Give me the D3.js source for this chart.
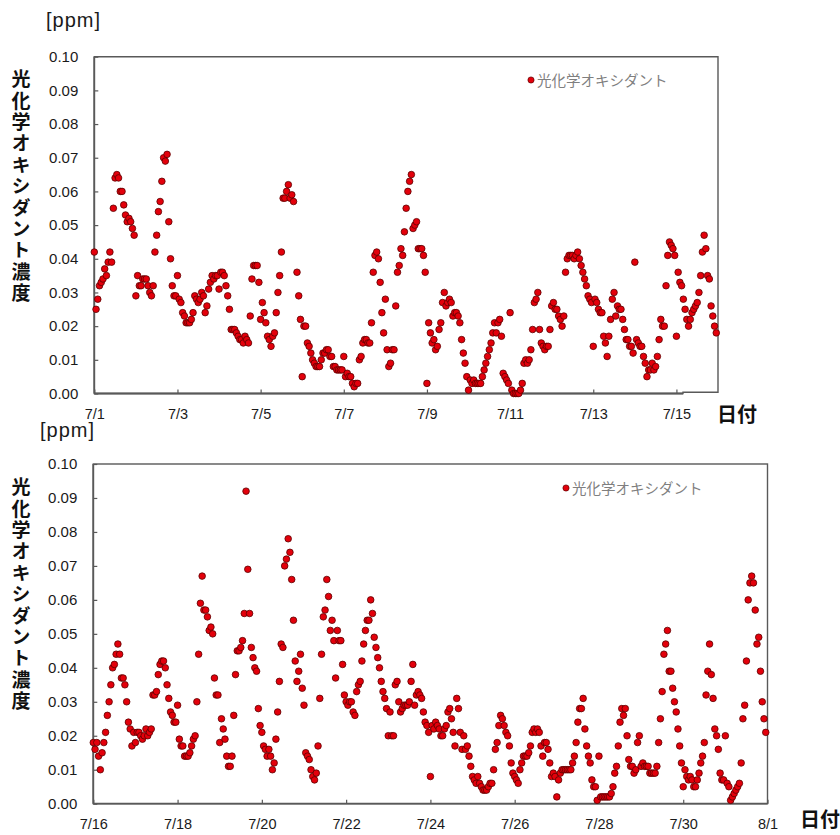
<!DOCTYPE html>
<html>
<head>
<meta charset="utf-8">
<script src="https://cdn.jsdelivr.net/npm/d3@7"></script>
<style>
  body { margin: 0; background: #fff; }
  svg text { font-family: "Liberation Sans", Arial, sans-serif; }
  svg text.jp { font-family: "Noto Sans CJK JP", "Noto Sans", sans-serif; }
</style>
</head>
<body>
<svg id="chart" width="840" height="835"></svg>
<script>
// Hourly photochemical oxidant concentration [ppm], 24 values per day.
const oxJuly1to15 = [
  0.042,0.025,0.028,0.032,0.033,0.034,0.037,0.035,0.039,0.042,0.039,0.055,0.064,0.065,0.064,0.060,0.060,0.056,0.053,0.051,0.052,0.051,0.049,0.047, // 7/1
  0.029,0.035,0.032,0.032,0.034,0.034,0.034,0.032,0.030,0.029,0.032,0.042,0.047,0.054,0.057,0.063,0.070,0.069,0.071,0.051,0.040,0.032,0.029,0.029, // 7/2
  0.035,0.028,0.027,0.024,0.023,0.021,0.021,0.021,0.022,0.024,0.029,0.028,0.027,0.028,0.030,0.029,0.024,0.026,0.031,0.033,0.035,0.034,0.035,0.035, // 7/3
  0.031,0.036,0.036,0.035,0.032,0.029,0.025,0.019,0.019,0.019,0.018,0.017,0.016,0.016,0.015,0.017,0.016,0.015,0.023,0.034,0.038,0.038,0.038,0.033, // 7/4
  0.022,0.027,0.024,0.021,0.017,0.016,0.014,0.017,0.018,0.024,0.030,0.035,0.042,0.058,0.058,0.060,0.062,0.058,0.059,0.057,null, 0.036,0.029,0.022, // 7/5
  0.005,0.020,0.020,0.015,0.014,0.012,0.010,0.009,0.008,0.008,0.008,0.010,0.012,0.012,0.013,0.013,0.011,0.011,0.008,0.008,0.007,0.007,0.007,0.007, // 7/6
  0.011,0.005,0.006,0.005,0.005,0.003,0.002,0.003,0.003,0.010,0.011,0.015,0.016,0.016,0.015,0.015,0.021,0.036,0.041,0.042,0.040,0.033,0.024,0.018, // 7/7
  0.028,0.013,0.008,0.009,0.013,0.013,0.026,0.036,0.038,0.043,0.041,0.048,0.055,0.060,0.063,0.065,0.049,0.050,0.051,0.043,0.043,0.043,0.041,0.036, // 7/8
  0.003,0.021,0.018,0.015,0.016,0.013,0.014,0.019,0.021,0.027,0.030,0.026,0.027,0.028,0.027,0.023,0.024,0.024,0.023,0.021,0.016,0.012,0.009,0.005, // 7/9
  0.001,0.004,0.003,0.004,0.003,0.003,0.003,0.003,0.005,0.007,0.009,0.011,0.013,0.015,0.018,0.021,0.018,0.021,0.022,0.017,0.006,0.005,0.004,0.003, // 7/10
  0.024,0.001,0.000,0.000,0.000,0.000,0.001,0.003,0.009,0.010,0.009,0.010,0.013,0.019,0.027,0.028,0.030,0.019,0.015,0.014,0.013,0.014,0.014,0.019, // 7/11
  0.026,0.027,0.025,0.025,0.023,0.022,0.020,0.023,0.036,0.040,0.041,0.041,0.041,0.040,0.041,0.042,0.040,0.038,0.036,0.034,0.032,0.029,0.028,0.027, // 7/12
  0.014,0.028,0.027,0.025,0.024,0.024,0.017,0.015,0.011,0.017,0.022,0.028,0.030,0.023,0.026,0.025,0.025,0.022,0.019,0.016,0.016,0.014,0.014,0.012, // 7/13
  0.039,0.016,0.015,0.014,0.014,0.011,0.009,0.005,0.007,0.007,0.009,0.007,0.008,0.011,0.016,0.022,0.020,0.020,0.032,0.041,0.045,0.044,0.043,0.041, // 7/14
  0.017,0.036,0.033,0.032,0.028,0.025,0.022,0.020,0.022,0.024,0.025,0.026,0.027,0.030,0.035,0.042,0.047,0.043,0.035,0.034,0.026,0.023,0.020,0.018  // 7/15
];

const oxJuly16to31 = [
  0.018,0.016,0.018,0.014,0.010,0.015,0.018,0.021,0.026,0.030,0.035,0.040,0.041,0.044,0.047,0.044,0.037,0.037,0.035,0.030,0.024,0.022,0.017,0.021, // 7/16
  0.018,0.021,0.021,0.020,0.019,0.020,0.022,0.020,0.021,0.022,0.032,0.032,0.033,0.038,0.041,0.042,0.042,0.040,0.035,0.031,0.027,0.026,0.024,0.024, // 7/17
  0.029,0.019,0.017,0.017,0.014,0.014,0.014,0.015,0.017,0.019,0.020,0.030,0.044,0.059,0.067,0.057,0.057,0.055,0.051,0.052,0.050,0.037,0.032,0.032, // 7/18
  0.018,0.025,0.022,0.019,0.014,0.011,0.011,0.014,0.026,0.038,0.045,0.045,0.046,0.048,0.056,0.092,0.069,0.056,0.046,0.043,0.040,0.039,0.028,0.023, // 7/19
  0.021,0.017,0.016,0.014,0.016,0.014,0.010,0.012,0.019,0.027,0.036,0.047,0.046,0.070,0.072,0.078,0.074,0.066,0.054,0.042,0.036,0.039,0.044,0.034, // 7/20
  0.029,0.015,0.014,0.013,0.010,0.008,0.007,0.009,0.017,0.031,0.044,0.055,0.057,0.066,0.061,0.051,0.054,0.048,0.037,0.051,0.048,0.048,0.041,0.032, // 7/21
  0.030,0.029,0.030,0.030,0.027,0.026,0.033,0.035,0.036,0.042,0.047,0.051,0.054,0.054,0.060,0.056,0.049,0.046,0.043,0.040,0.036,0.033,0.031,0.028, // 7/22
  0.020,0.027,0.020,0.020,0.035,0.036,0.030,0.027,0.028,0.029,0.029,0.029,0.030,0.036,0.041,0.029,0.032,0.033,0.032,0.031,0.027,0.024,0.023,0.021, // 7/23
  0.008,0.023,0.022,0.024,0.023,0.022,0.020,0.020,0.022,0.023,0.027,0.028,0.025,0.021,0.017,0.031,0.028,0.021,0.016,0.020,0.016,0.017,0.014,0.011, // 7/24
  0.008,0.007,0.006,0.008,0.006,0.005,0.004,0.004,0.004,0.005,0.006,0.006,0.010,0.016,0.018,0.023,0.026,0.025,0.023,0.021,0.020,0.017,0.012,0.009, // 7/25
  0.008,0.007,0.006,0.010,0.012,0.014,0.014,0.014,0.015,0.017,0.021,0.022,0.021,0.022,0.021,0.017,0.014,0.018,0.018,0.016,0.012,0.008,0.009,0.008, // 7/26
  0.002,0.007,0.009,0.010,0.010,0.010,0.010,0.010,0.010,0.012,0.014,0.018,0.024,0.028,0.028,0.031,0.022,0.017,0.014,0.012,0.007,0.005,0.005,0.001, // 7/27
  0.014,0.002,0.002,0.002,0.002,0.002,0.002,0.003,0.005,0.009,0.011,0.017,0.024,0.028,0.026,0.028,0.020,0.013,0.011,0.011,0.009,0.010,0.018,0.020, // 7/28
  0.011,0.012,0.011,0.011,0.011,0.009,0.009,0.009,0.009,0.011,0.018,0.025,0.033,0.044,0.047,0.051,0.039,0.039,0.034,0.030,0.027,0.022,0.017,0.012, // 7/29
  0.005,0.010,0.008,0.007,0.008,0.007,0.005,0.005,0.007,0.009,0.012,0.014,0.018,0.032,0.039,0.047,0.038,0.031,0.022,0.020,0.016,0.009,0.007,0.007, // 7/30
  0.020,0.006,0.005,0.001,0.002,0.003,0.004,0.005,0.006,0.012,0.025,0.029,0.042,0.060,0.065,0.067,0.065,0.057,0.047,0.049,0.039,0.030,0.025,0.021  // 7/31
];

const yTickValues = [0, 0.01, 0.02, 0.03, 0.04, 0.05, 0.06, 0.07, 0.08, 0.09, 0.10];
const dateLabelsFirst = ["7/1", "7/3", "7/5", "7/7", "7/9", "7/11", "7/13", "7/15"];
const dateLabelsSecond = ["7/16", "7/18", "7/20", "7/22", "7/24", "7/26", "7/28", "7/30", "8/1"];
const seriesName = "光化学オキシダント";
const yAxisTitle = "光化学オキシダント濃度";
const unitLabel = "[ppm]";
const xAxisTitle = "日付";

const svg = d3.select("#chart");
const axisColor = "#595959";

const panels = [
  { values: oxJuly1to15, labels: dateLabelsFirst, days: 15,
    left: 94.3, right: 718, top: 56.7, bottom: 393.5,
    unitX: 46, unitY: 27, titleX: 21, titleTop: 69.5,
    legendX: 531, legendY: 80, dateTitleX: 717, dateTitleY: 422, stepX: 683 },
  { values: oxJuly16to31, labels: dateLabelsSecond, days: 16,
    left: 93.3, right: 767.5, top: 464, bottom: 803.7,
    unitX: 40, unitY: 437, titleX: 21, titleTop: 477.5,
    legendX: 566, legendY: 488, dateTitleX: 800, dateTitleY: 827, stepX: null }
];

panels.forEach(p => {
  const hours = p.days * 24;
  const x = d3.scaleLinear().domain([0, hours]).range([p.left, p.right]);
  const y = d3.scaleLinear().domain([0, 0.1]).range([p.bottom, p.top]);
  const g = svg.append("g");

  // y axis: inward ticks, two-decimal labels
  const yAxis = g.append("g")
    .attr("transform", `translate(${p.left},0)`)
    .call(d3.axisLeft(y).tickValues(yTickValues).tickSize(-4).tickPadding(16)
      .tickFormat(d3.format(".2f")));
  yAxis.select(".domain").remove();
  yAxis.selectAll(".tick line").attr("stroke", axisColor).attr("stroke-width", 1.2);
  yAxis.selectAll(".tick text").attr("font-size", 15).attr("fill", "#1a1a1a")
    .attr("font-family", "Liberation Sans, Arial, sans-serif");

  // x axis: a tick every two days
  const xAxis = g.append("g")
    .attr("transform", `translate(0,${p.bottom})`)
    .call(d3.axisBottom(x).tickValues(d3.range(0, hours + 1, 48)).tickSize(-4).tickPadding(15)
      .tickFormat((d, i) => p.labels[i]));
  xAxis.select(".domain").remove();
  xAxis.selectAll(".tick line").attr("stroke", axisColor).attr("stroke-width", 1.2);
  xAxis.selectAll(".tick text").attr("font-size", 14.5).attr("fill", "#1a1a1a")
    .attr("font-family", "Liberation Sans, Arial, sans-serif");

  // plot frame
  if (p.stepX) {
    g.append("path")
      .attr("d", `M${p.left},${p.top}H${p.right}V${p.bottom - 1.2}H${p.stepX}V${p.bottom}H${p.left}Z`)
      .attr("fill", "none").attr("stroke", axisColor).attr("stroke-width", 1.4);
  } else {
    g.append("rect")
      .attr("x", p.left).attr("y", p.top)
      .attr("width", p.right - p.left).attr("height", p.bottom - p.top)
      .attr("fill", "none").attr("stroke", axisColor).attr("stroke-width", 1.4);
  }
  g.append("line").attr("x1", p.left).attr("x2", p.left).attr("y1", p.top).attr("y2", p.bottom)
    .attr("stroke", axisColor).attr("stroke-width", 1.8);
  g.append("line").attr("x1", p.left).attr("x2", p.stepX || p.right).attr("y1", p.bottom).attr("y2", p.bottom)
    .attr("stroke", axisColor).attr("stroke-width", 1.8);

  // hourly markers
  const pts = p.values.map((v, i) => ({ h: i, v })).filter(d => d.v !== null);
  g.append("g").selectAll("circle").data(pts).join("circle")
    .attr("cx", d => x(d.h)).attr("cy", d => y(d.v)).attr("r", 3.3)
    .attr("fill", "#e3000b").attr("stroke", "#5c0000").attr("stroke-width", 0.8);

  // legend
  g.append("circle").attr("cx", p.legendX).attr("cy", p.legendY).attr("r", 3.1)
    .attr("fill", "#e3000b").attr("stroke", "#5c0000").attr("stroke-width", 0.7);
  g.append("text").attr("class", "jp").attr("x", p.legendX + 6).attr("y", p.legendY + 6)
    .attr("font-size", 14.5).attr("fill", "#7f7f7f").text(seriesName);

  // unit label
  g.append("text").attr("x", p.unitX).attr("y", p.unitY)
    .attr("font-size", 20).attr("fill", "#1a1a1a").attr("letter-spacing", 1).text(unitLabel);

  // vertical y-axis title
  g.append("text").attr("class", "jp")
    .attr("x", p.titleX).attr("y", p.titleTop)
    .attr("writing-mode", "vertical-rl")
    .attr("font-size", 19).attr("font-weight", 700).attr("letter-spacing", 2.4)
    .attr("fill", "#111").text(yAxisTitle);

  // x-axis title
  g.append("text").attr("class", "jp").attr("x", p.dateTitleX).attr("y", p.dateTitleY)
    .attr("font-size", 20).attr("font-weight", 700).attr("fill", "#111").text(xAxisTitle);
});
</script>
</body>
</html>
